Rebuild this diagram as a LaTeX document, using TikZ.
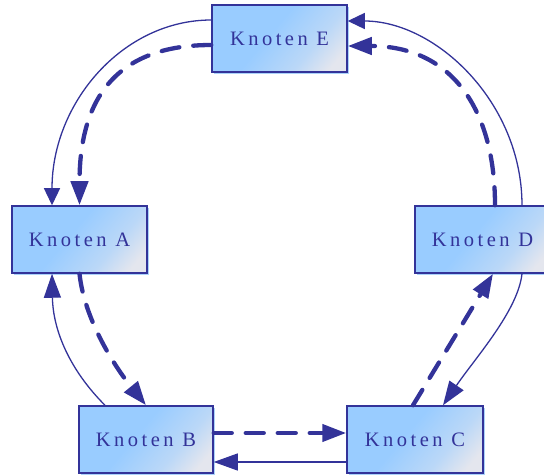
\documentclass[tikz,border=0pt]{standalone}
\usepackage{fontspec}
\setmainfont{Liberation Serif}
\newfontfamily\labelfont[LetterSpace=17]{Liberation Serif}
\usetikzlibrary{arrows.meta}

\definecolor{ink}{RGB}{51,51,153}
\definecolor{nodeblue}{RGB}{153,204,255}
\definecolor{nodegray}{RGB}{228,230,238}
\definecolor{shadowblue}{RGB}{170,210,250}

% box fill: blue on the upper left, fading to grey towards the lower right
\pgfdeclarehorizontalshading{knotfill}{100bp}{color(0bp)=(nodeblue); color(45bp)=(nodeblue); color(65bp)=(nodeblue!55!nodegray); color(78bp)=(nodegray); color(100bp)=(nodegray)}

\begin{document}
\begin{tikzpicture}[x=1pt,y=-1pt,
  knot/.style={draw=ink, line width=1.5pt, shading=knotfill, shading angle=-40,
    minimum width=135pt, minimum height=67pt, inner sep=0pt, text=ink,
    font=\labelfont\fontsize{20.5}{24}\selectfont,
    preaction={fill=shadowblue, transform canvas={shift={(2pt,-2pt)}}}},
  link/.style={draw=ink, line width=1.3pt, -{Triangle[length=24pt,width=17pt]}},
  shortlink/.style={draw=ink, line width=1.3pt, -{Triangle[length=17pt,width=16pt]}},
  dashlink/.style={draw=ink, line width=4.3pt, line cap=round,
    dash pattern=on 18pt off 14pt, -{Triangle[length=24pt,width=17pt]}}
]
\useasboundingbox (0,0) rectangle (544,476);
\clip (0,0) rectangle (544,476);

% nodes
\node[knot] (E) at (279.5,38.5) {\raisebox{-2pt}{Knoten E}};
\node[knot] (A) at (79.5,239.5) {\raisebox{-2pt}{Knoten A}};
\node[knot] (D) at (482.5,239.5) {\raisebox{-2pt}{Knoten D}};
\node[knot, minimum width=134pt] (B) at (146,439.5) {\raisebox{-2pt}{Knoten B}};
\node[knot, minimum width=136pt] (C) at (415,439.5) {\raisebox{-2pt}{Knoten C}};

% E -> A
\draw[shortlink] ([yshift=18.5pt]E.west) .. controls +(-88,0) and +(0,-103) .. ([xshift=-27.5pt]A.north);
\draw[dashlink] ([yshift=-6.5pt]E.west) .. controls +(-104,0) and +(0,-96) .. (A.north);

% D -> E
\draw[shortlink] ([xshift=39.5pt]D.north) .. controls +(0,-103) and +(88,0) .. ([yshift=17.5pt]E.east);
\draw[dashlink] ([xshift=12.5pt]D.north) .. controls +(0,-96) and +(104,0) .. ([yshift=-7.5pt]E.east);

% A <-> B
\draw[dashlink] (A.south) .. controls +(5,47) and +(-30,-37) .. (B.north);
\draw[link] ([xshift=-41pt]B.north) .. controls +(-35,-35) and +(1,57) .. ([xshift=-27.5pt]A.south);

% C <-> D
\draw[dashlink] ([xshift=-2pt]C.north) -- ([xshift=10.5pt]D.south);
\draw[link] ([xshift=39.5pt]D.south) .. controls +(-4,37) and +(32,-47) .. ([xshift=28pt]C.north);

% B <-> C
\draw[dashlink] ([yshift=6.5pt]B.east) -- ([yshift=6.5pt]C.west);
\draw[link] ([yshift=-22.5pt]C.west) -- ([yshift=-22.5pt]B.east);
\end{tikzpicture}
\end{document}
